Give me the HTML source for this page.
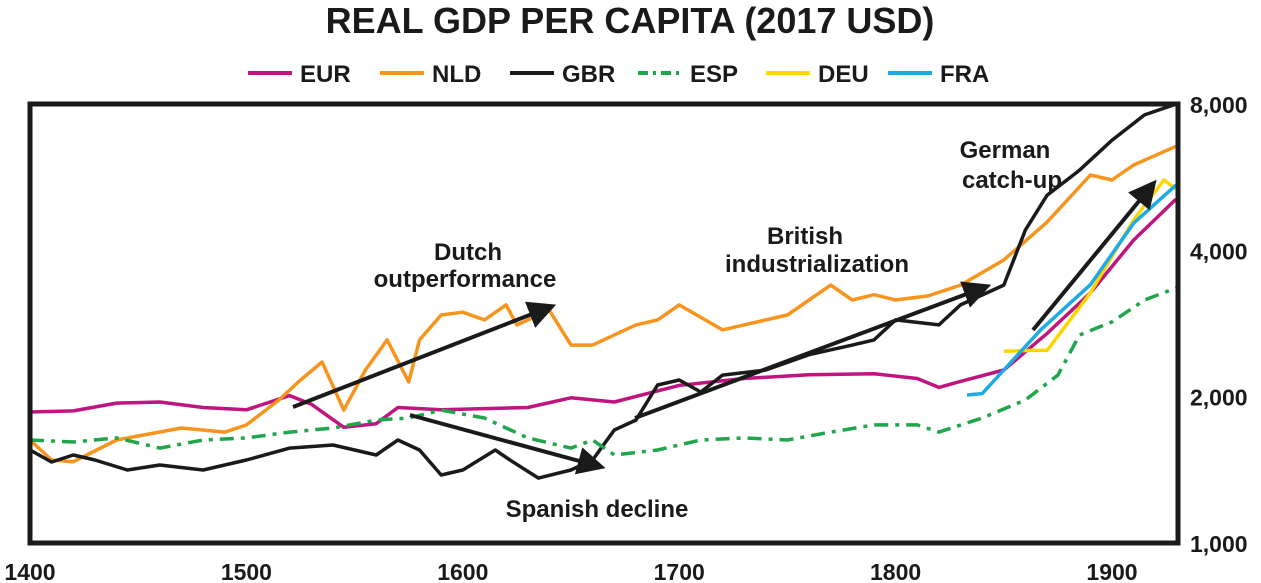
<!DOCTYPE html>
<html><head><meta charset="utf-8">
<style>
html,body{margin:0;padding:0;background:#fff;}
svg{display:block;font-family:"Liberation Sans",sans-serif;}
</style></head>
<body>
<svg id="chart" width="1261" height="583" viewBox="0 0 1261 583" xmlns="http://www.w3.org/2000/svg">
<defs>
<marker id="ah" markerWidth="7" markerHeight="7" refX="4" refY="3.5" orient="auto" markerUnits="strokeWidth">
<path d="M0,0 L7,3.5 L0,7 z" fill="#1a1a1a"/>
</marker>
</defs>
<text x="630" y="33" text-anchor="middle" font-size="36" font-weight="bold" fill="#1a1a1a">REAL GDP PER CAPITA (2017 USD)</text>
<g id="legend"></g>
<g id="plot"></g>
<rect x="30" y="104" width="1148" height="439" fill="none" stroke="#1a1a1a" stroke-width="5"/>
<g id="axes"></g>
<g font-size="24" font-weight="bold" fill="#1a1a1a" text-anchor="middle">
<line x1="293" y1="407" x2="545" y2="309" stroke="#1a1a1a" stroke-width="4" marker-end="url(#ah)"/>
<line x1="410" y1="415" x2="594" y2="465" stroke="#1a1a1a" stroke-width="4" marker-end="url(#ah)"/>
<line x1="635" y1="418" x2="980" y2="289" stroke="#1a1a1a" stroke-width="4" marker-end="url(#ah)"/>
<line x1="1033" y1="330" x2="1149" y2="189" stroke="#1a1a1a" stroke-width="4" marker-end="url(#ah)"/>
<text x="468" y="260">Dutch</text>
<text x="465" y="287">outperformance</text>
<text x="597" y="517">Spanish decline</text>
<text x="805" y="244">British</text>
<text x="817" y="272">industrialization</text>
<text x="1005" y="158">German</text>
<text x="1012" y="188">catch-up</text>
</g>
</svg>
<script>
const eurYears=[1400,1420,1440,1460,1480,1500,1520,1530,1545,1560,1570,1590,1610,1630,1650,1670,1700,1730,1760,1790,1810,1820,1830,1850,1870,1890,1910,1930];
const eurValues=[1860,1870,1940,1950,1900,1880,2010,1930,1730,1760,1900,1880,1890,1900,1990,1950,2110,2180,2220,2230,2180,2090,2150,2270,2700,3270,4200,5100];
const nldYears=[1400,1410,1420,1440,1470,1490,1500,1515,1525,1535,1545,1555,1565,1575,1580,1590,1600,1610,1620,1625,1640,1650,1660,1680,1690,1700,1720,1730,1750,1770,1780,1790,1800,1815,1830,1850,1870,1890,1900,1910,1930];
const nldValues=[1629,1482,1470,1629,1724,1691,1750,1969,2165,2357,1877,2270,2617,2145,2617,2945,2985,2878,3090,2811,3010,2554,2554,2811,2878,3090,2744,2811,2945,3394,3162,3242,3162,3225,3394,3822,4575,5717,5584,5995,6550];
const gbrYears=[1400,1410,1420,1430,1445,1460,1480,1500,1520,1540,1560,1570,1580,1590,1600,1615,1622,1635,1650,1660,1670,1680,1690,1700,1710,1720,1740,1760,1780,1790,1800,1820,1830,1850,1860,1870,1885,1900,1915,1930];
const gbrValues=[1554,1468,1517,1482,1413,1447,1413,1482,1568,1591,1517,1629,1554,1380,1413,1554,1480,1360,1413,1482,1708,1790,2114,2165,2045,2216,2270,2440,2554,2617,2878,2811,3090,3394,4405,5196,5850,6742,7600,8000];
const espYears=[1400,1420,1440,1460,1480,1500,1520,1540,1560,1575,1590,1610,1630,1650,1660,1670,1690,1710,1730,1750,1770,1790,1810,1820,1840,1860,1875,1885,1900,1915,1930];
const espValues=[1629,1614,1645,1568,1629,1645,1691,1724,1790,1808,1877,1808,1645,1568,1629,1517,1554,1629,1645,1629,1691,1750,1750,1691,1808,1969,2216,2679,2850,3162,3347];
const deuYears=[1850,1863,1870,1890,1910,1924,1930];
const deuValues=[2480,2490,2490,3270,4620,5584,5350];
const fraYears=[1833,1840,1850,1867,1890,1910,1930];
const fraValues=[2016,2030,2270,2744,3400,4550,5450];
const yTicks=[1000,2000,4000,8000];
const yTickLabels=["1,000","2,000","4,000","8,000"];
const xTicks=[1400,1500,1600,1700,1800,1900];
const series=[
 {name:"EUR",color:"#c0157f",years:eurYears,values:eurValues,dash:""},
 {name:"NLD",color:"#f7941d",years:nldYears,values:nldValues,dash:""},
 {name:"GBR",color:"#1a1a1a",years:gbrYears,values:gbrValues,dash:""},
 {name:"ESP",color:"#1fa54a",years:espYears,values:espValues,dash:"14,7,4,7"},
 {name:"DEU",color:"#ffd500",years:deuYears,values:deuValues,dash:""},
 {name:"FRA",color:"#1eaae7",years:fraYears,values:fraValues,dash:""}
];
const NS="http://www.w3.org/2000/svg";
function xs(y){return 30+(y-1400)*2.164;}
function ys(v){return 543-146.3*Math.log2(v/1000);}
const plot=document.getElementById('plot');
series.forEach(s=>{
 const p=document.createElementNS(NS,'path');
 
 
 const d=s.years.map((y,i)=>(i?'L':'M')+Math.min(xs(y),1176).toFixed(1)+','+ys(s.values[i]).toFixed(1)).join(' ');
 p.setAttribute('d',d);p.setAttribute('fill','none');p.setAttribute('stroke',s.color);
 p.setAttribute('stroke-width','3.5');p.setAttribute('stroke-linejoin','round');
 if(s.dash)p.setAttribute('stroke-dasharray',s.dash);
 plot.appendChild(p);
});
const lg=document.getElementById('legend');
const lx=[248,380,510,638,766,888];
series.forEach((s,i)=>{
 const l=document.createElementNS(NS,'line');
 
 
 l.setAttribute('x1',lx[i]);l.setAttribute('x2',lx[i]+44);l.setAttribute('y1',73);l.setAttribute('y2',73);
 l.setAttribute('stroke',s.color);l.setAttribute('stroke-width',4);
 if(s.dash)l.setAttribute('stroke-dasharray','10,5,3,5');
 lg.appendChild(l);
 const t=document.createElementNS(NS,'text');
 
 
 t.setAttribute('x',lx[i]+52);t.setAttribute('y',82);t.setAttribute('font-size','24');t.setAttribute('font-weight','bold');t.setAttribute('fill','#1a1a1a');
 t.textContent=s.name;lg.appendChild(t);
});
const ax=document.getElementById('axes');
yTicks.forEach((v,i)=>{
 const t=document.createElementNS(NS,'text');
 
 
 t.setAttribute('x',1190);t.setAttribute('y',ys(v)+9);t.setAttribute('font-size','23');t.setAttribute('font-weight','bold');t.setAttribute('fill','#1a1a1a');
 t.textContent=yTickLabels[i];ax.appendChild(t);
});
xTicks.forEach(v=>{
 const t=document.createElementNS(NS,'text');
 
 
 t.setAttribute('x',xs(v));t.setAttribute('y',580);t.setAttribute('font-size','23');t.setAttribute('font-weight','bold');t.setAttribute('text-anchor','middle');t.setAttribute('fill','#1a1a1a');
 t.textContent=v;ax.appendChild(t);
});
</script>
</body></html>
